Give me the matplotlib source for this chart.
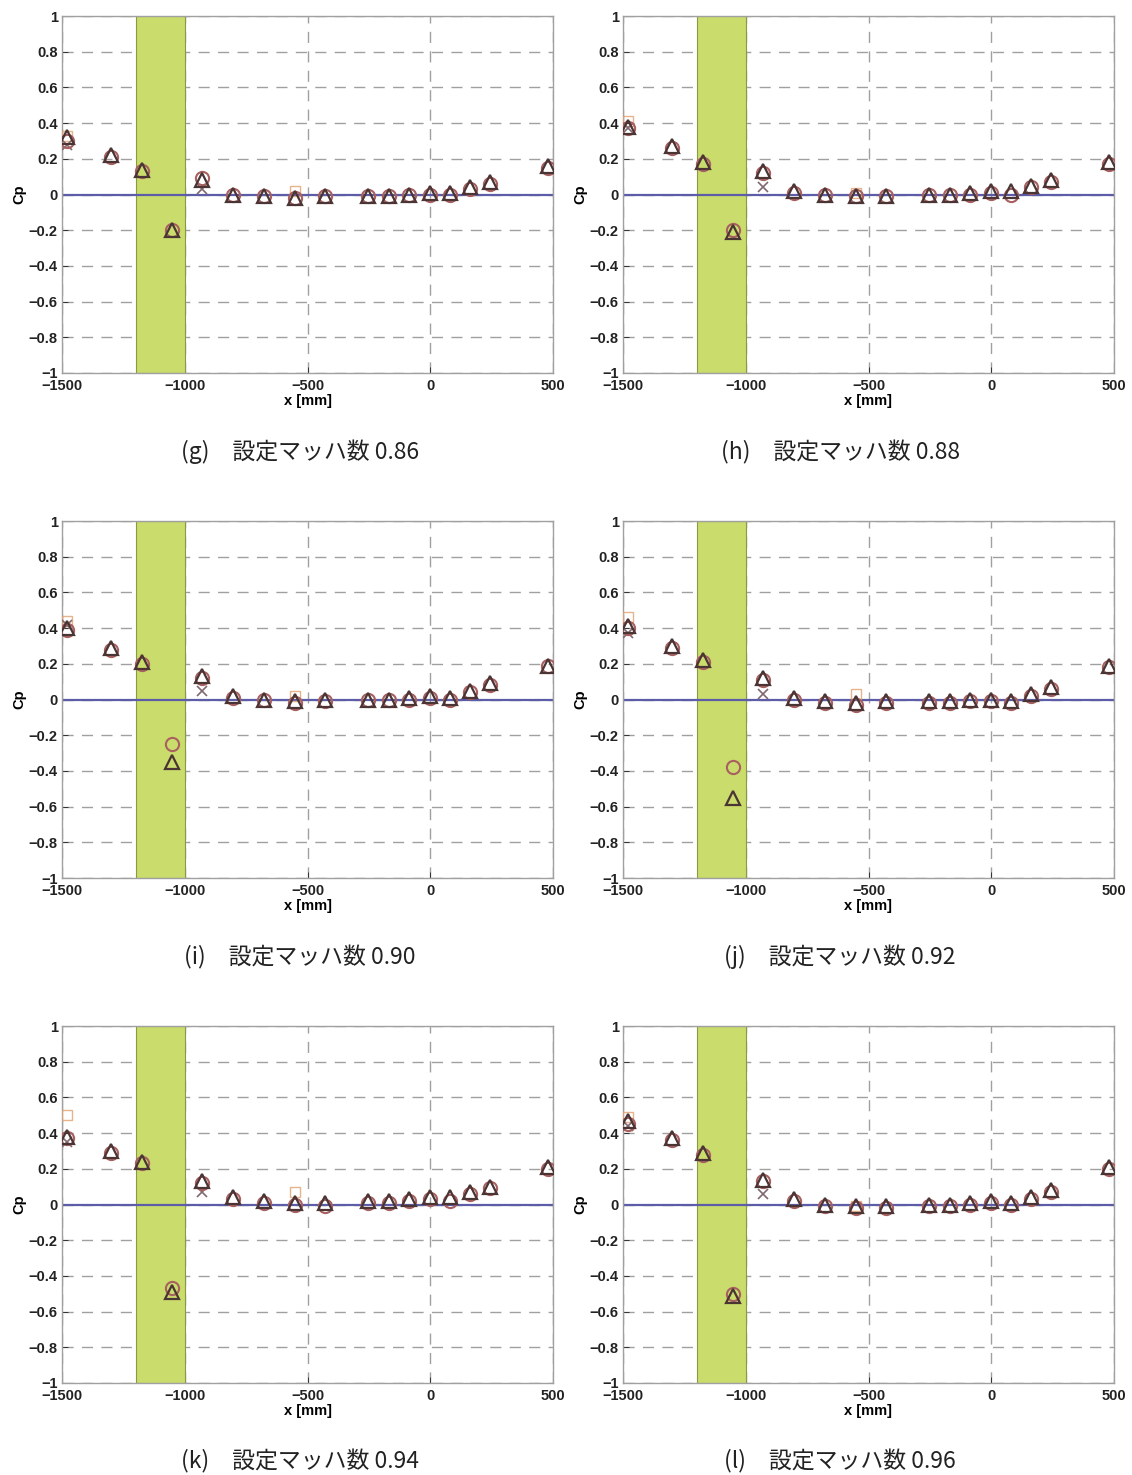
#!/usr/bin/env python3
"""Cp distributions along x for six Mach-number settings (g)-(l)."""

import matplotlib
matplotlib.use("Agg")
import matplotlib.pyplot as plt

plt.rcParams["font.family"] = ["Liberation Sans", "DejaVu Sans"]

# tap positions [mm]
X_POS = [-1478, -1300, -1175, -1052, -929, -802, -678, -551, -427,
         -253, -168, -86, 0, 81, 162, 245, 481]

# subset of taps where the extra runs stand out
CROSS_X = [-1478, -929]
SQUARE_X = [-1478, -551]

LABELS = ["(g)", "(h)", "(i)", "(j)", "(k)", "(l)"]
MACH = ["0.86", "0.88", "0.90", "0.92", "0.94", "0.96"]

TRI_G = [0.32, 0.22, 0.14, -0.20, 0.08, 0.00, -0.01, -0.02, -0.01,
         -0.01, -0.01, 0.00, 0.01, 0.01, 0.04, 0.07, 0.16]
CIRC_G = [0.30, 0.21, 0.13, -0.20, 0.09, 0.00, -0.01, -0.02, -0.01,
          -0.01, -0.01, 0.00, 0.00, 0.00, 0.03, 0.06, 0.15]
CROSS_G = [0.28, 0.03]
SQUARE_G = [0.33, 0.02]

TRI_H = [0.38, 0.27, 0.18, -0.21, 0.13, 0.02, 0.00, -0.01, -0.01,
         0.00, 0.00, 0.01, 0.02, 0.02, 0.05, 0.08, 0.18]
CIRC_H = [0.37, 0.26, 0.17, -0.20, 0.12, 0.01, 0.00, -0.01, -0.01,
          0.00, 0.00, 0.00, 0.01, 0.00, 0.04, 0.07, 0.17]
CROSS_H = [0.37, 0.04]
SQUARE_H = [0.41, 0.01]

TRI_I = [0.40, 0.29, 0.21, -0.35, 0.13, 0.02, 0.00, -0.01, 0.00,
         0.00, 0.00, 0.01, 0.02, 0.01, 0.05, 0.09, 0.19]
CIRC_I = [0.39, 0.28, 0.20, -0.25, 0.12, 0.01, 0.00, -0.02, -0.01,
          0.00, 0.00, 0.00, 0.01, 0.00, 0.04, 0.08, 0.19]
CROSS_I = [0.42, 0.05]
SQUARE_I = [0.44, 0.02]

TRI_J = [0.41, 0.30, 0.22, -0.55, 0.12, 0.01, -0.01, -0.02, -0.01,
         -0.01, -0.01, 0.00, 0.00, -0.01, 0.03, 0.07, 0.19]
CIRC_J = [0.40, 0.29, 0.21, -0.38, 0.11, 0.00, -0.02, -0.03, -0.02,
          -0.02, -0.02, -0.01, -0.01, -0.02, 0.02, 0.06, 0.18]
CROSS_J = [0.37, 0.03]
SQUARE_J = [0.46, 0.03]

TRI_K = [0.38, 0.30, 0.24, -0.49, 0.13, 0.04, 0.02, 0.01, 0.01,
         0.02, 0.02, 0.03, 0.04, 0.04, 0.07, 0.10, 0.21]
CIRC_K = [0.37, 0.29, 0.23, -0.47, 0.12, 0.03, 0.01, 0.00, -0.01,
          0.01, 0.01, 0.02, 0.03, 0.02, 0.06, 0.09, 0.20]
CROSS_K = [0.35, 0.07]
SQUARE_K = [0.50, 0.07]

TRI_L = [0.47, 0.37, 0.29, -0.51, 0.14, 0.03, 0.00, -0.01, -0.01,
         0.00, 0.00, 0.01, 0.02, 0.01, 0.04, 0.08, 0.21]
CIRC_L = [0.45, 0.36, 0.28, -0.50, 0.13, 0.02, -0.01, -0.02, -0.02,
          -0.01, -0.01, 0.00, 0.01, 0.00, 0.03, 0.07, 0.20]
CROSS_L = [0.44, 0.06]
SQUARE_L = [0.49, -0.01]

TRI = [TRI_G, TRI_H, TRI_I, TRI_J, TRI_K, TRI_L]
CIRC = [CIRC_G, CIRC_H, CIRC_I, CIRC_J, CIRC_K, CIRC_L]
CROSS = [CROSS_G, CROSS_H, CROSS_I, CROSS_J, CROSS_K, CROSS_L]
SQUARE = [SQUARE_G, SQUARE_H, SQUARE_I, SQUARE_J, SQUARE_K, SQUARE_L]

BAND = (-1200, -1000)

W, H = 1132, 1475
COL_X = [62, 623]
AX_W = 491
ROW_BOTTOM = [373, 878, 1383]
AX_H = 357
CAPTION_Y = [452, 957, 1461]
CAPTION_X = [300, 840]


def draw_panel(ax, idx):
    ax.set_xlim(-1500, 500)
    ax.set_ylim(-1, 1)
    ax.set_xticks([-1500, -1000, -500, 0, 500])
    ax.set_yticks([-1, -0.8, -0.6, -0.4, -0.2, 0, 0.2, 0.4, 0.6, 0.8, 1])
    ax.set_yticklabels(["\u22121", "\u22120.8", "\u22120.6", "\u22120.4",
                        "\u22120.2", "0", "0.2", "0.4", "0.6", "0.8", "1"])
    ax.set_xticklabels(["\u22121500", "\u22121000", "\u2212500", "0", "500"])
    ax.tick_params(direction="in", length=4, width=0.6, colors="#222222",
                   labelsize=10.5)
    ax.tick_params(axis="x", pad=4)
    ax.tick_params(axis="y", pad=3)
    for lab in ax.get_xticklabels() + ax.get_yticklabels():
        lab.set_fontweight("bold")
        lab.set_color("#222222")
    ax.grid(True, linestyle=(0, (8, 6)), color="#a0a0a0", linewidth=1.0)
    ax.set_axisbelow(True)
    for sp in ax.spines.values():
        sp.set_color("#a0a0a0")
        sp.set_linewidth(1.0)

    ax.axvspan(*BAND, facecolor="#c9dc6c", edgecolor="#8a9a40",
               linewidth=0.8, zorder=1.5)
    ax.axhline(0, color="#5c5ca8", linewidth=1.6, zorder=2)

    ax.plot(SQUARE_X, SQUARE[idx], linestyle="none", marker="s",
            markersize=7.5, markerfacecolor="none", markeredgecolor="#e0a070",
            markeredgewidth=1.0, alpha=0.8, zorder=3)
    ax.plot(CROSS_X, CROSS[idx], linestyle="none", marker="x",
            markersize=7.5, color="#806870", markeredgewidth=1.2, zorder=3)
    ax.plot(X_POS, CIRC[idx], linestyle="none", marker="o",
            markersize=9.5, markerfacecolor="none", markeredgecolor="#a86060",
            markeredgewidth=1.5, zorder=4)
    ax.plot(X_POS, TRI[idx], linestyle="none", marker="^",
            markersize=10.5, markerfacecolor="none", markeredgecolor="#4a3434",
            markeredgewidth=1.6, zorder=5)

    ax.set_xlabel("x [mm]", fontsize=10.5, fontweight="bold", labelpad=1)
    ax.set_ylabel("Cp", fontsize=10.5, fontweight="bold", labelpad=2)


def main():
    fig = plt.figure(figsize=(W / 100, H / 100), dpi=100)
    for idx in range(6):
        row, col = divmod(idx, 2)
        left = COL_X[col] / W
        bottom = 1 - ROW_BOTTOM[row] / H
        ax = fig.add_axes([left, bottom, AX_W / W, AX_H / H])
        draw_panel(ax, idx)
        fig.text(CAPTION_X[col] / W, 1 - CAPTION_Y[row] / H,
                 f"{LABELS[idx]}\u3000設定マッハ数 {MACH[idx]}",
                 ha="center", va="center", fontsize=16.5, color="#222222",
                 family=["Noto Sans CJK JP", "DejaVu Sans"])
    fig.savefig("out.png", dpi=100)
    plt.close(fig)


if __name__ == "__main__":
    main()
